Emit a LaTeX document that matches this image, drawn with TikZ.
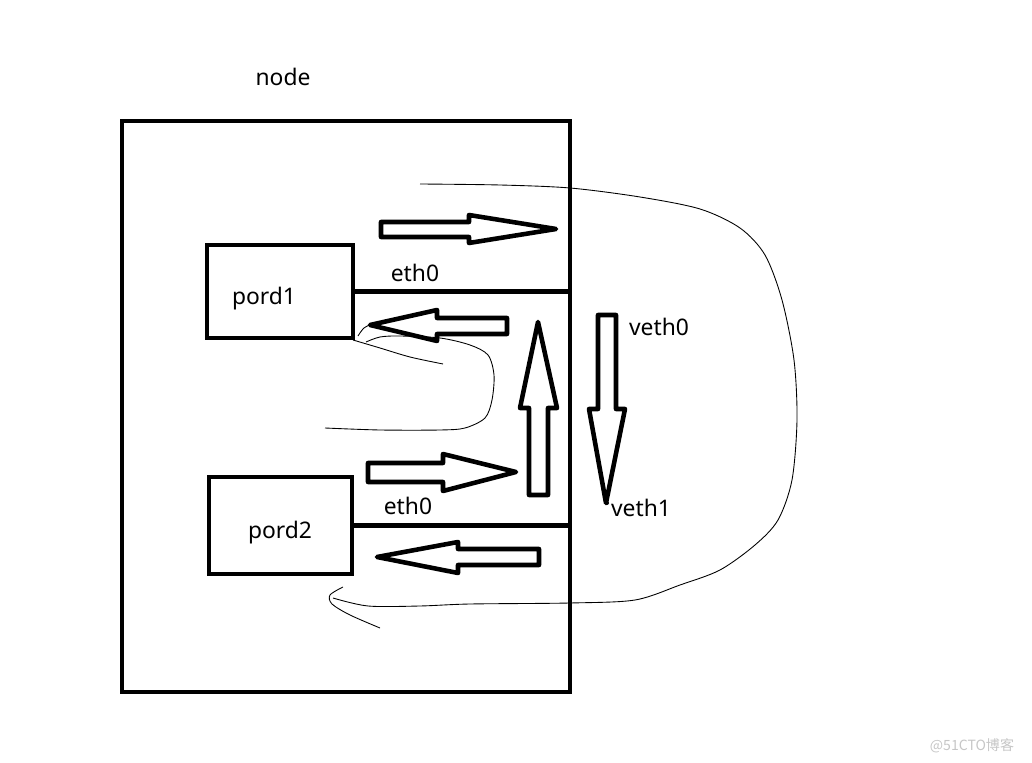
\documentclass[tikz,border=0pt]{standalone}
\usepackage{fontspec}
\setmainfont{Noto Sans}
\newfontfamily\cjkfont{Noto Sans CJK SC}
\usetikzlibrary{positioning}

\begin{document}
\begin{tikzpicture}[x=0.02cm, y=-0.02cm,
    box/.style={draw, line width=2.3pt, inner sep=0pt},
    wire/.style={line width=2.3pt},
    barrow/.style={draw, line width=2.6pt, line join=round, fill=white},
    hand/.style={line width=0.5pt},
    lbl/.style={font=\fontsize{13}{15}\selectfont, inner sep=0pt}
]
\useasboundingbox (0,0) rectangle (1032,763);

% node and pods
\node[box, minimum width=8.96cm, minimum height=11.42cm] (outer) at (346,406.5) {};
\node[lbl] (title) at (283,77) {node};
\node[box, minimum width=2.92cm, minimum height=1.86cm] (pord1) at (280,291.5) {};
\node[box, minimum width=2.86cm, minimum height=1.94cm] (pord2) at (280.5,525.5) {};
\node[lbl] (pord1txt) at (264,299) {pord1};
\node[lbl] (pord2txt) at (280,533) {pord2};

% eth0 lines
\draw[wire] (pord1.east) -- (pord1.east -| outer.east);
\draw[wire] (pord2.east) -- (pord2.east -| outer.east);
\node[lbl] (eth1) at (415,273) {eth0};
\node[lbl] (eth2) at (408,506) {eth0};
\node[lbl] (veth0) at (659,327) {veth0};
\node[lbl] (veth1) at (641,508) {veth1};

% block arrows
\draw[barrow] (381,222) -- (469,222) -- (469,215) -- (556,229) -- (469,243) -- (469,237) -- (381,237) -- cycle;
\draw[barrow] (507,318) -- (437,318) -- (437,310) -- (370,325) -- (437,341) -- (437,334) -- (507,334) -- cycle;
\draw[barrow] (529,495) -- (529,408) -- (520,408) -- (538,322) -- (557,408) -- (548,408) -- (548,495) -- cycle;
\draw[barrow] (368,463) -- (443,463) -- (443,454) -- (516,472) -- (443,491) -- (443,482) -- (368,482) -- cycle;
\draw[barrow] (598,315) -- (616,315) -- (616,409) -- (625,409) -- (606,503) -- (589,409) -- (598,409) -- cycle;
\draw[barrow] (539,549) -- (458,549) -- (458,542) -- (377,557) -- (458,573) -- (458,565) -- (539,565) -- cycle;
\fill (607,503) circle (2);

% hand drawn paths
\draw[hand] plot[smooth, tension=0.5] coordinates {(420,184) (500,185) (570,188) (640,197) (700,209) (740,228) (765,255) (782,300) (794,360) (797,420) (792,480) (778,520) (755,545) (720,570) (680,585) (635,600) (570,603) (470,604) (420,606) (368,606) (333,598)};
\draw[hand] plot[smooth, tension=0.5] coordinates {(343,587) (330,595) (332,604) (350,615) (380,628)};
\draw[hand] plot[smooth, tension=0.5] coordinates {(353,340) (380,348) (410,357) (443,364)};
\draw[hand] plot[smooth, tension=0.5] coordinates {(366,342) (380,337) (400,336) (440,338) (470,345) (488,355) (494,375) (492,400) (485,418) (465,428) (440,430) (380,430) (325,428)};
\draw[hand] plot[smooth, tension=0.5] coordinates {(358,336) (364,328) (374,323)};

\node[font=\cjkfont\fontsize{8}{9}\selectfont, text=gray!45, inner sep=0pt] (mark) at (972,746) {@51CTO博客};
\end{tikzpicture}
\end{document}
